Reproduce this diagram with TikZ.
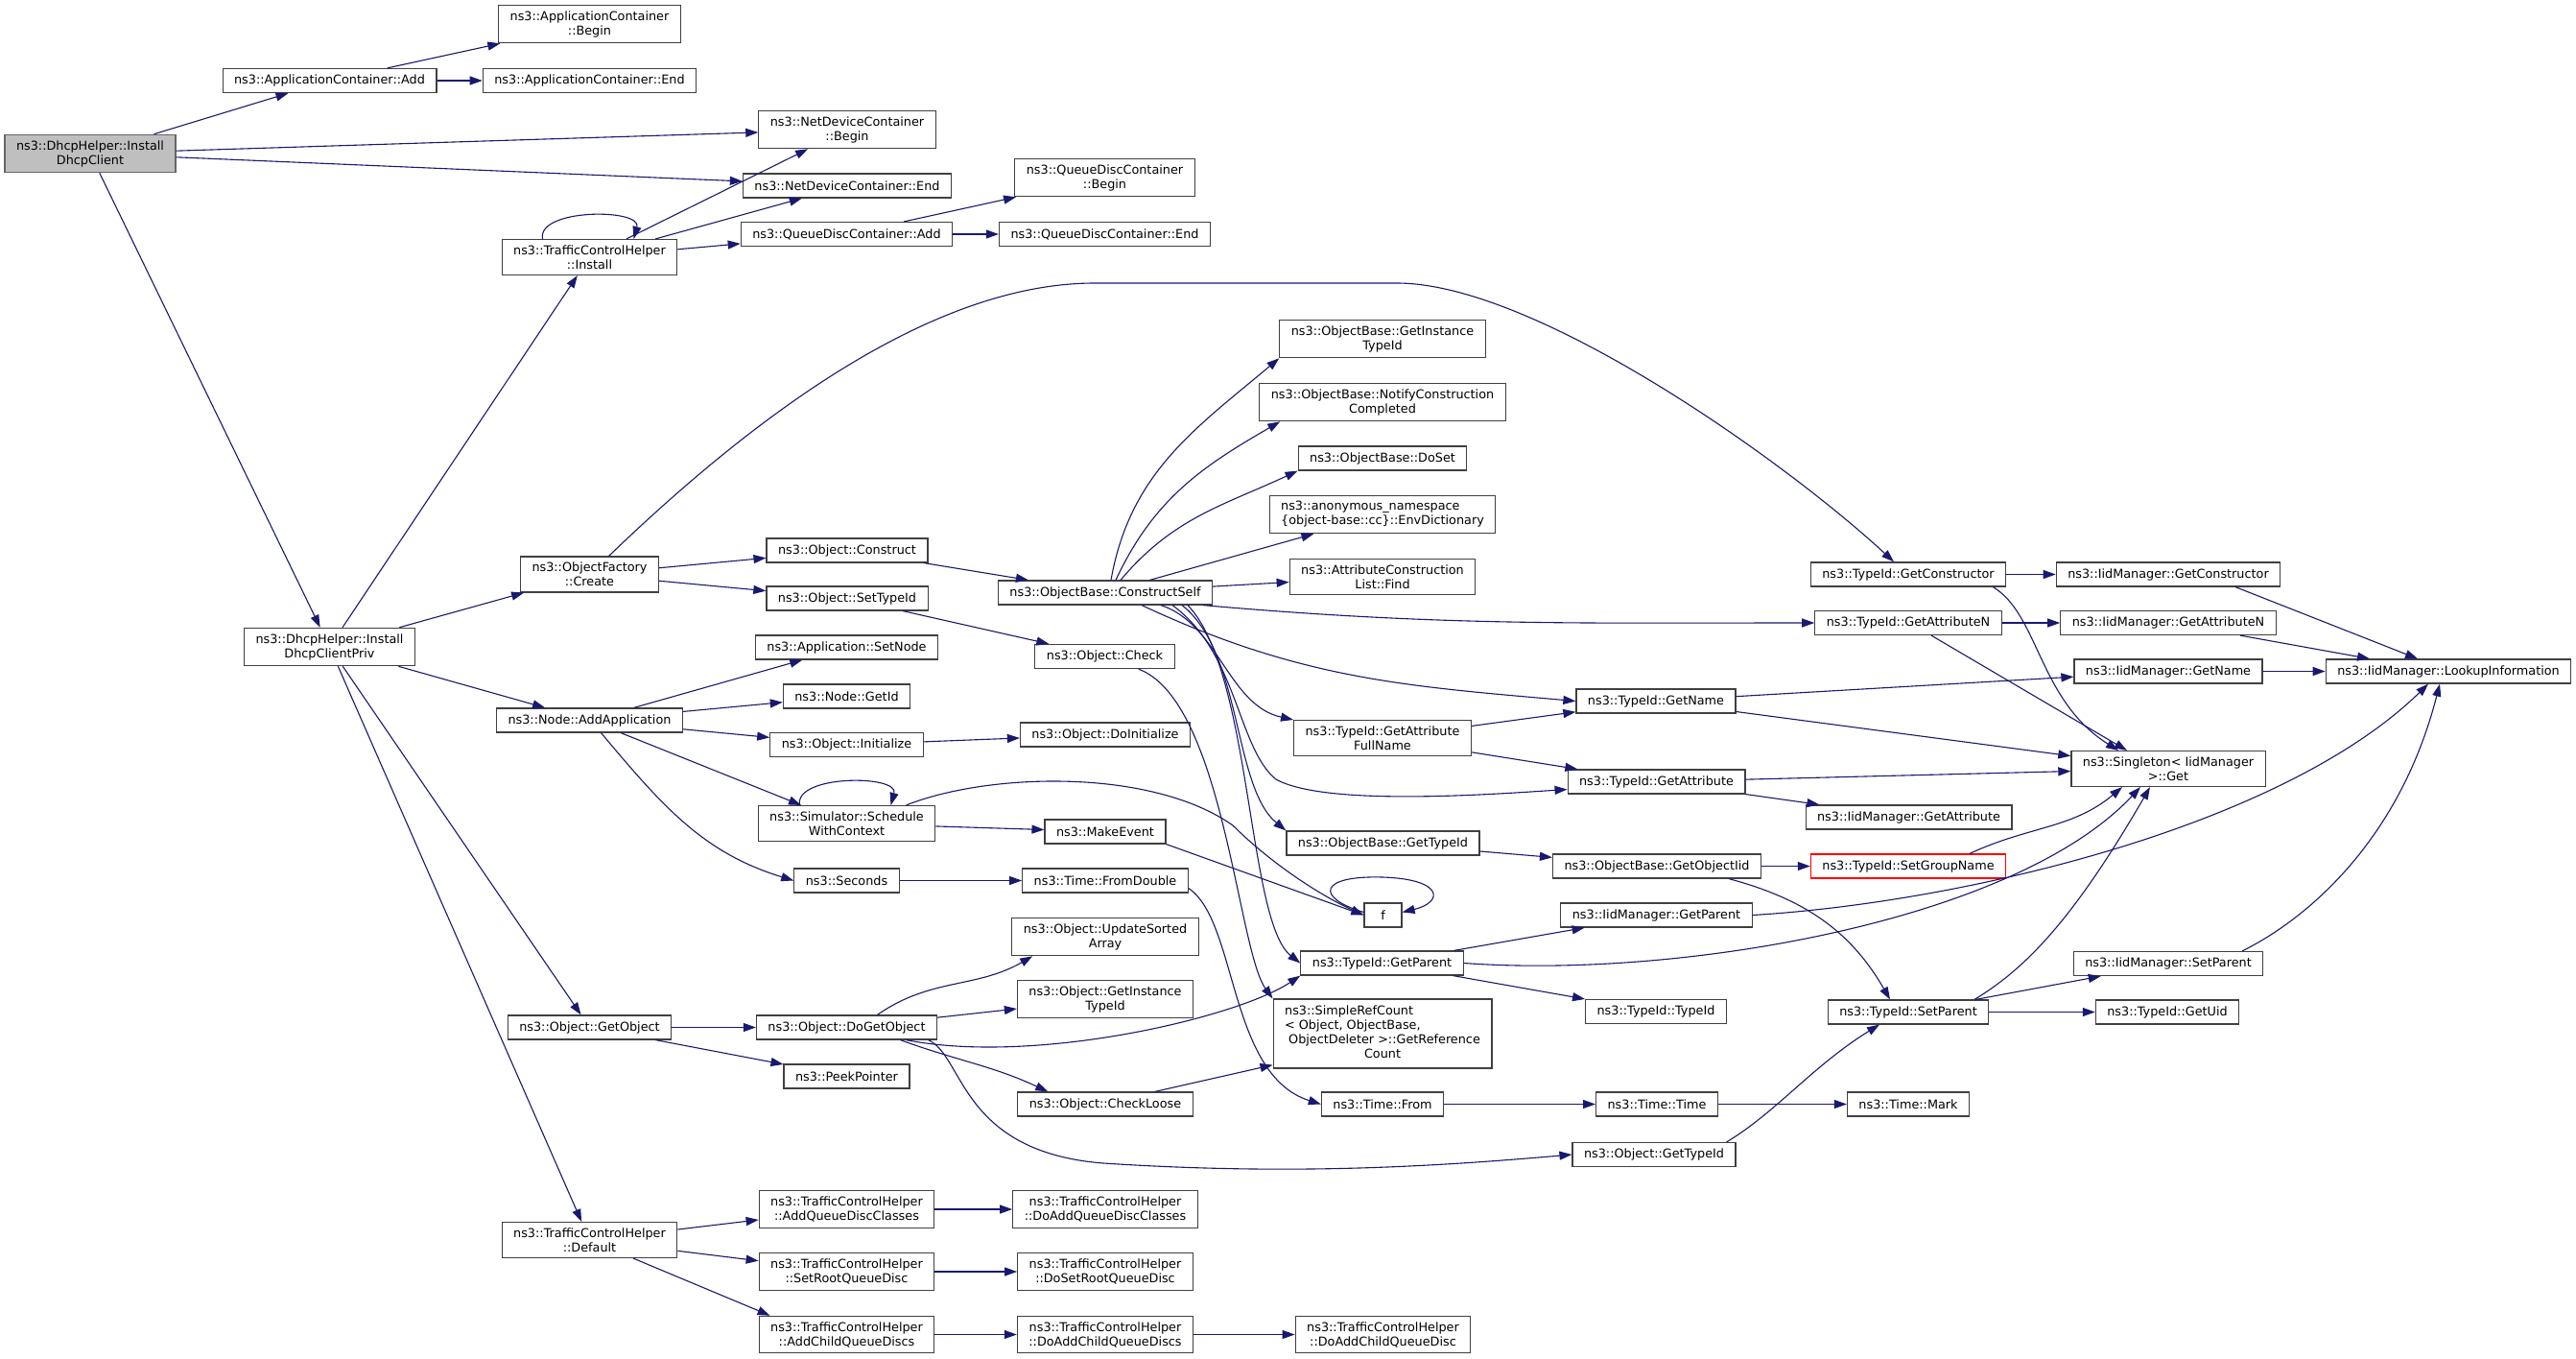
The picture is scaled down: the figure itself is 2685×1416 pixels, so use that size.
\documentclass[tikz,border=0pt]{standalone}
\usepackage{fontspec}
\newfontfamily\graphfont{DejaVu Sans}
\usetikzlibrary{arrows.meta}
\definecolor{edgeblue}{HTML}{191970}
\definecolor{rootgray}{HTML}{BFBFBF}
\tikzset{
  fn/.style={draw=black!75, line width=1.2pt, fill=white, inner xsep=12pt, inner ysep=6pt,
    minimum height=25pt, align=center, font=\graphfont\fontsize{12.8}{15}\selectfont},
  root/.style={fill=rootgray, draw=black!60},
  trunc/.style={draw=red},
  call/.style={draw=edgeblue, line width=1.1pt, -{Triangle[length=13pt,width=9pt]}}
}
\begin{document}
\begin{tikzpicture}[x=1pt,y=1pt]
      \path[use as bounding box, fill=white] (0,0) rectangle (2685,-1416);
      \begin{scope}[every node/.style=fn]
      \draw
        (94,-160) node[root] (0){ns3::DhcpHelper::Install\\DhcpClient}
        (343.5,-84) node (1){ns3::ApplicationContainer::Add}
        (614.5,-25) node (2){ns3::ApplicationContainer\\::Begin}
        (614.5,-84) node (3){ns3::ApplicationContainer::End}
        (883,-135) node (4){ns3::NetDeviceContainer\\::Begin}
        (883,-193.5) node (5){ns3::NetDeviceContainer::End}
        (343.5,-674) node (6){ns3::DhcpHelper::Install\\DhcpClientPriv}
        (614.5,-268) node (7){ns3::TrafficControlHelper\\::Install}
        (882.5,-244) node (8){ns3::QueueDiscContainer::Add}
        (1151.5,-185) node (9){ns3::QueueDiscContainer\\::Begin}
        (1151.5,-244) node (10){ns3::QueueDiscContainer::End}
        (614.5,-598.5) node (11){ns3::ObjectFactory\\::Create}
        (883,-573.5) node (12){ns3::Object::Construct}
        (883,-623.5) node (13){ns3::Object::SetTypeId}
        (1152,-617.5) node (14){ns3::ObjectBase::ConstructSelf}
        (1151.5,-684) node (15){ns3::Object::Check}
        (1441,-353) node (16){ns3::ObjectBase::GetInstance\\TypeId}
        (1441,-419) node (17){ns3::ObjectBase::NotifyConstruction\\Completed}
        (1441,-477.5) node (18){ns3::ObjectBase::DoSet}
        (1441,-536) node[align=left] (19){ns3::anonymous\_namespace\\\{object-base::cc\}::EnvDictionary}
        (1441,-601) node (20){ns3::AttributeConstruction\\List::Find}
        (1989,-598.5) node (21){ns3::TypeId::GetConstructor}
        (2260,-598.5) node (22){ns3::IidManager::GetConstructor}
        (2552,-699.5) node (23){ns3::IidManager::LookupInformation}
        (2260,-801) node (24){ns3::Singleton< IidManager\\ >::Get}
        (1989,-649) node (25){ns3::TypeId::GetAttributeN}
        (2260,-649) node (26){ns3::IidManager::GetAttributeN}
        (1726,-730.5) node (27){ns3::TypeId::GetName}
        (2260,-699.5) node (28){ns3::IidManager::GetName}
        (1441,-769) node (29){ns3::TypeId::GetAttribute\\FullName}
        (1726.5,-814.5) node (30){ns3::TypeId::GetAttribute}
        (1989.5,-851.5) node (31){ns3::IidManager::GetAttribute}
        (1441.5,-878.5) node (32){ns3::ObjectBase::GetTypeId}
        (1727,-902.5) node (33){ns3::ObjectBase::GetObjectIid}
        (1989,-902.5) node[trunc] (34){ns3::TypeId::SetGroupName}
        (1989,-1054.5) node (35){ns3::TypeId::SetParent}
        (2260,-1004) node (36){ns3::IidManager::SetParent}
        (2259,-1054.5) node (37){ns3::TypeId::GetUid}
        (1440.5,-1003.5) node (38){ns3::TypeId::GetParent}
        (1726.5,-953.5) node (39){ns3::IidManager::GetParent}
        (1726,-1054) node (40){ns3::TypeId::TypeId}
        (614.5,-750.5) node (41){ns3::Node::AddApplication}
        (882.5,-674.5) node (42){ns3::Application::SetNode}
        (882.5,-725.5) node (43){ns3::Node::GetId}
        (882.5,-776) node (44){ns3::Object::Initialize}
        (1152,-765.5) node (45){ns3::Object::DoInitialize}
        (882.5,-858) node (46){ns3::Simulator::Schedule\\WithContext}
        (1152,-866.5) node (47){ns3::MakeEvent}
        (1441.5,-953.5) node[minimum width=39pt] (48){f}
        (882.5,-917.5) node (49){ns3::Seconds}
        (1152,-917.5) node (50){ns3::Time::FromDouble}
        (1441,-1077) node (51){\begin{tabular}{@{}l@{}}ns3::SimpleRefCount\\< Object, ObjectBase,\\\ ObjectDeleter >::GetReference\\\multicolumn{1}{@{}c@{}}{Count}\end{tabular}}
        (1441,-1150.5) node (52){ns3::Time::From}
        (1727,-1150.5) node (53){ns3::Time::Time}
        (1989,-1150.5) node (54){ns3::Time::Mark}
        (614.5,-1070.5) node (55){ns3::Object::GetObject}
        (882.5,-1070.5) node (56){ns3::Object::DoGetObject}
        (882.5,-1121.5) node (57){ns3::PeekPointer}
        (1152,-976) node (58){ns3::Object::UpdateSorted\\Array}
        (1152,-1041) node (59){ns3::Object::GetInstance\\TypeId}
        (1152,-1150.5) node (60){ns3::Object::CheckLoose}
        (1724,-1203) node (61){ns3::Object::GetTypeId}
        (614.5,-1292) node (62){ns3::TrafficControlHelper\\::Default}
        (882.5,-1260) node (63){ns3::TrafficControlHelper\\::AddQueueDiscClasses}
        (882.5,-1325) node (64){ns3::TrafficControlHelper\\::SetRootQueueDisc}
        (882.5,-1390.5) node (65){ns3::TrafficControlHelper\\::AddChildQueueDiscs}
        (1152,-1260) node (66){ns3::TrafficControlHelper\\::DoAddQueueDiscClasses}
        (1152,-1325) node (67){ns3::TrafficControlHelper\\::DoSetRootQueueDisc}
        (1152,-1390.5) node (68){ns3::TrafficControlHelper\\::DoAddChildQueueDiscs}
        (1441.5,-1390.5) node (69){ns3::TrafficControlHelper\\::DoAddChildQueueDisc};
      \end{scope}
      \begin{scope}[call]
        \draw (0) to (1);
        \draw (0) to (4);
        \draw (0) to (5);
        \draw (0) to (6);
        \draw (1) to (2);
        \draw (1) to (3);
        \draw (6) to (7);
        \draw (6) to (11);
        \draw (6) to (41);
        \draw (6) to (55);
        \draw (6) to (62);
        \draw ([xshift=-49pt]7.north) .. controls ([xshift=-55pt,yshift=32pt]7.north) and ([xshift=55pt,yshift=32pt]7.north) .. ([xshift=46pt]7.north);
        \draw (7) to (4);
        \draw (7) to (5);
        \draw (7) to (8);
        \draw (8) to (9);
        \draw (8) to (10);
        \draw ([xshift=20pt]11.north) .. controls (800,-420) and (980,-295) .. (1141,-295) -- (1456,-295) .. controls (1600,-295) and (1860,-480) .. ([xshift=-15pt]21.north);
        \draw (11) to (12);
        \draw (11) to (13);
        \draw (12) to (14);
        \draw (13) to (15);
        \draw ([xshift=6pt]14.north) to[out=80,in=220] (16.south west);
        \draw ([xshift=11pt]14.north) to[out=65,in=210] ([xshift=22pt]17.south west);
        \draw ([xshift=16pt]14.north) to[out=50,in=205] (18.south west);
        \draw (14) to (19);
        \draw (14) to (20);
        \draw ([xshift=-10pt]14.south east) to[out=-5,in=180] (25.west);
        \draw ([xshift=38pt]14.south) to[out=-25,in=175] (27.west);
        \draw ([xshift=58pt]14.south) .. controls (1270,-650) and (1280,-735) .. (29.north west);
        \draw ([xshift=70pt]14.south) .. controls (1290,-680) and (1290,-780) .. (1330,-812) .. controls (1380,-840) and (1550,-828) .. ([yshift=-8pt]30.west);
        \draw ([xshift=80pt]14.south) .. controls (1295,-680) and (1285,-820) .. (32.north west);
        \draw ([xshift=86pt]14.south) .. controls (1305,-700) and (1300,-960) .. (38.west);
        \draw (15) .. controls (1275,-730) and (1290,-990) .. (51.north west);
        \draw (21) to (22);
        \draw ([xshift=-14pt]21.south east) .. controls (2125,-640) and (2125,-730) .. ([xshift=-52pt]24.north);
        \draw ([xshift=70pt]22.south) to ([xshift=-32pt]23.north);
        \draw (25) to (26);
        \draw ([xshift=24pt]25.south) to ([xshift=-43pt]24.north);
        \draw ([xshift=75pt]26.south) to ([xshift=-82pt]23.north);
        \draw (27) to (28);
        \draw (27) to (24);
        \draw (28) to (23);
        \draw (29) to (27);
        \draw (29) to (30);
        \draw (30) to (24);
        \draw (30) to (31);
        \draw (32) to (33);
        \draw (33) to (34);
        \draw ([xshift=75pt]33.south) to[out=-15,in=120] ([xshift=-19pt]35.north);
        \draw ([xshift=64pt]34.north) to[out=25,in=220] ([xshift=-48pt]24.south);
        \draw (35) to (36);
        \draw (35) to (37);
        \draw ([xshift=69pt]35.north) .. controls (2110,-1010) and (2160,-960) .. ([xshift=-19pt]24.south);
        \draw ([xshift=77pt]36.north) .. controls (2400,-960) and (2500,-880) .. ([xshift=-9pt]23.south);
        \draw (38) to (39);
        \draw (38) to (40);
        \draw (38.east) .. controls (1750,-1020) and (2100,-960) .. ([xshift=-29pt]24.south);
        \draw (39.east) .. controls (2050,-940) and (2380,-860) .. ([xshift=-21pt]23.south);
        \draw (41) to (42);
        \draw (41) to (43);
        \draw (41) to (44);
        \draw (41) to (46);
        \draw ([xshift=12pt]41.south) to[out=-50,in=163] (49.west);
        \draw (44) to (45);
        \draw ([xshift=-49pt]46.north) .. controls ([xshift=-55pt,yshift=32pt]46.north) and ([xshift=55pt,yshift=32pt]46.north) .. ([xshift=46pt]46.north);
        \draw (46) to (47);
        \draw ([xshift=62pt]46.north) .. controls (1030,-805) and (1200,-800) .. (1285,-860) .. controls (1320,-895) and (1370,-930) .. (48.west);
        \draw (47.south east) to (48.west);
        \draw ([yshift=3pt]48.west) .. controls (1370,-935) and (1375,-912) .. (1441,-914) .. controls (1505,-916) and (1505,-940) .. ([yshift=3pt]48.east);
        \draw (49) to (50);
        \draw ([yshift=-8pt]50.east) .. controls (1290,-960) and (1280,-1120) .. (52.west);
        \draw (52) to (53);
        \draw (53) to (54);
        \draw (55) to (56);
        \draw (55) to (57);
        \draw ([xshift=32pt]56.north) to[out=35,in=210] ([xshift=22pt]58.south west);
        \draw (56) to (59);
        \draw ([xshift=62pt]56.south) .. controls (1080,-1110) and (1290,-1060) .. (38.south west);
        \draw ([xshift=56pt]56.south) to[out=-20,in=155] ([xshift=32pt]60.north west);
        \draw ([xshift=85pt]56.south) .. controls (1005,-1100) and (1000,-1200) .. (1150,-1212) .. controls (1350,-1225) and (1500,-1215) .. (61.west);
        \draw ([xshift=-40pt]60.north east) to ([yshift=4pt]51.south west);
        \draw ([xshift=-10pt]61.north east) .. controls (1850,-1160) and (1890,-1110) .. ([xshift=-30pt]35.south);
        \draw (62) to (63);
        \draw (62) to (64);
        \draw (62) to ([xshift=12pt]65.north west);
        \draw (63) to (66);
        \draw (64) to (67);
        \draw (65) to (68);
        \draw (68) to (69);
      \end{scope}
    \end{tikzpicture}
\end{document}
